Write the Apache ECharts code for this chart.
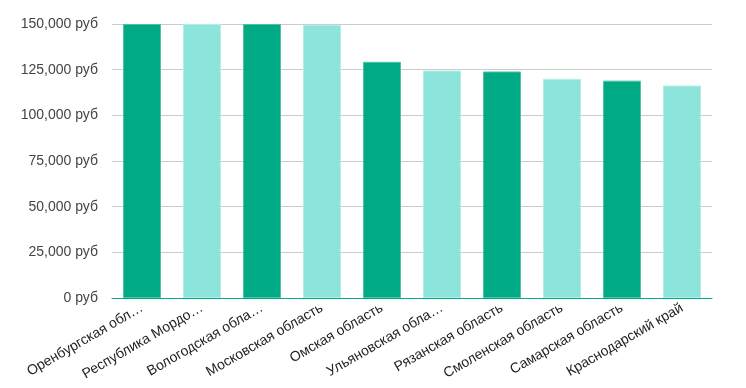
<!DOCTYPE html>
<html><head><meta charset="utf-8">
<script src="https://cdn.jsdelivr.net/npm/echarts@6/dist/echarts.min.js"></script>
<style>html,body{margin:0;padding:0;background:#fff}#c{width:746px;height:388px}</style>
</head><body><div id="c"></div>
<script>
const categories = ["Оренбургская область","Республика Мордовия","Вологодская область","Московская область","Омская область","Ульяновская область","Рязанская область","Смоленская область","Самарская область","Краснодарский край"];
const values = [150000,150000,150000,149500,129300,124500,124000,120000,119000,116300];
const yTicks = [0,25000,50000,75000,100000,125000,150000];
const darkColor = '#00aa85', lightColor = '#8ce4da';
const chart = echarts.init(document.getElementById('c'), null, {renderer:'canvas'});
chart.setOption({
  animation:false,
  textStyle:{fontFamily:'Liberation Sans, Arial, sans-serif'},
  grid:{left:112,right:34,top:24,bottom:90},
  xAxis:{type:'category',data:categories,
    axisLine:{lineStyle:{color:'#00aa85',width:1}},axisTick:{show:false},
    axisLabel:{rotate:30,interval:0,color:'#222',fontSize:14,margin:9,
      formatter:v=>v.length>18?v.slice(0,16)+'…':v}},
  yAxis:{type:'value',min:0,max:150000,interval:25000,
    axisLine:{show:false},axisTick:{show:false},
    splitLine:{lineStyle:{color:'#cccccc'}},
    axisLabel:{color:'#444',fontSize:14,margin:14,
      formatter:v=>v.toLocaleString('en-US')+' руб'}},
  series:[{type:'bar',barWidth:38,
    data:values.map((v,i)=>({value:v,itemStyle:{color:i%2?lightColor:darkColor,borderColor:i%2?'#b2efe8':'#4cc4a6',borderWidth:1}}))}]
});
</script></body></html>
